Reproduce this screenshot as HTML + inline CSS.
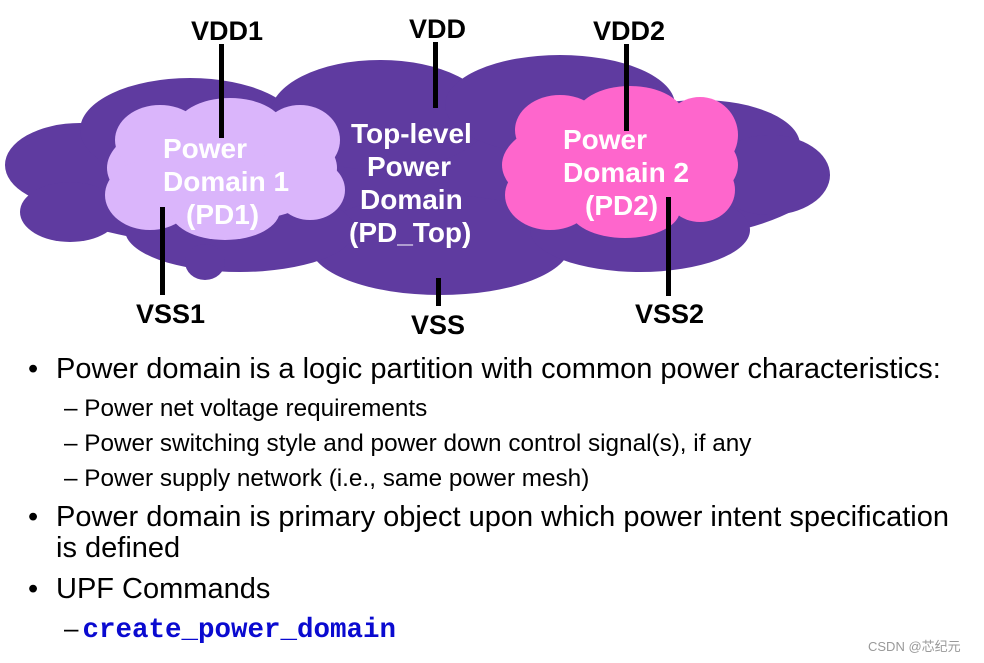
<!DOCTYPE html>
<html><head><meta charset="utf-8"><style>
body{margin:0;width:984px;height:663px;background:#fff;overflow:hidden;position:relative;font-family:"Liberation Sans",sans-serif;}
.t{position:absolute;white-space:nowrap;color:#000;line-height:1;}
.b{font-size:29px;}
.s{font-size:24.3px;}
</style></head><body>
<svg width="984" height="340" style="position:absolute;left:0;top:0">
<g fill="#5f3ba0">
<ellipse cx="420" cy="190" rx="390" ry="70"/>
<ellipse cx="80" cy="165" rx="75" ry="42"/>
<ellipse cx="70" cy="212" rx="50" ry="30"/>
<ellipse cx="190" cy="130" rx="110" ry="52"/>
<ellipse cx="380" cy="115" rx="110" ry="55"/>
<ellipse cx="560" cy="105" rx="115" ry="50"/>
<ellipse cx="700" cy="145" rx="100" ry="45"/>
<ellipse cx="770" cy="175" rx="60" ry="40"/>
<ellipse cx="440" cy="245" rx="130" ry="50"/>
<ellipse cx="240" cy="230" rx="115" ry="42"/>
<ellipse cx="640" cy="230" rx="110" ry="42"/>
<ellipse cx="205" cy="262" rx="20" ry="18"/>
</g>
<g fill="#dab5fb">
<ellipse cx="222" cy="168" rx="115" ry="55"/>
<ellipse cx="160" cy="140" rx="45" ry="35"/>
<ellipse cx="230" cy="130" rx="55" ry="32"/>
<ellipse cx="300" cy="140" rx="40" ry="35"/>
<ellipse cx="310" cy="190" rx="35" ry="30"/>
<ellipse cx="150" cy="195" rx="45" ry="35"/>
<ellipse cx="225" cy="210" rx="55" ry="30"/>
</g>
<g fill="#fe66cc">
<ellipse cx="620" cy="165" rx="118" ry="55"/>
<ellipse cx="560" cy="130" rx="45" ry="35"/>
<ellipse cx="630" cy="118" rx="55" ry="32"/>
<ellipse cx="700" cy="135" rx="38" ry="38"/>
<ellipse cx="700" cy="190" rx="35" ry="32"/>
<ellipse cx="550" cy="195" rx="45" ry="35"/>
<ellipse cx="625" cy="210" rx="55" ry="28"/>
</g>
<g fill="#000">
<rect x="219" y="44" width="5" height="94"/>
<rect x="160" y="207" width="5" height="88"/>
<rect x="433" y="42" width="5" height="66"/>
<rect x="436" y="278" width="5" height="28"/>
<rect x="624" y="44" width="5" height="87"/>
<rect x="666" y="197" width="5" height="99"/>
</g>
<g font-family="Liberation Sans, sans-serif" font-weight="bold" font-size="27" fill="#000">
<text x="191" y="40">VDD1</text>
<text x="409" y="38">VDD</text>
<text x="593" y="40">VDD2</text>
<text x="136" y="323">VSS1</text>
<text x="411" y="334">VSS</text>
<text x="635" y="323">VSS2</text>
</g>
<g font-family="Liberation Sans, sans-serif" font-weight="bold" font-size="28" fill="#fff">
<text x="163" y="158">Power</text>
<text x="163" y="191">Domain 1</text>
<text x="186" y="224">(PD1)</text>
<text x="351" y="143">Top-level</text>
<text x="367" y="176">Power</text>
<text x="360" y="209">Domain</text>
<text x="349" y="242">(PD_Top)</text>
<text x="563" y="149">Power</text>
<text x="563" y="182">Domain 2</text>
<text x="585" y="215">(PD2)</text>
</g>
</svg>
<div class="t b" style="left:28px;top:355px">•</div>
<div class="t b" style="left:56px;top:355px">Power domain is a logic partition with common power characteristics:</div>
<div class="t s" style="left:64px;top:397px">– Power net voltage requirements</div>
<div class="t s" style="left:64px;top:432px">– Power switching style and power down control signal(s), if any</div>
<div class="t s" style="left:64px;top:467px">– Power supply network (i.e., same power mesh)</div>
<div class="t b" style="left:28px;top:503px">•</div>
<div class="t b" style="left:56px;top:503px">Power domain is primary object upon which power intent specification</div>
<div class="t b" style="left:56px;top:534px">is defined</div>
<div class="t b" style="left:28px;top:575px">•</div>
<div class="t b" style="left:56px;top:575px">UPF Commands</div>
<div class="t" style="left:64px;top:615px;font-size:26px">–<span style="font-family:'Liberation Mono',monospace;font-weight:bold;color:#0a0ad0;font-size:27.5px;margin-left:4px">create_power_domain</span></div>
<div class="t" style="left:868px;top:640px;font-size:13px;color:#999;font-family:'Liberation Sans','Noto Sans CJK SC',sans-serif">CSDN @芯纪元</div>
</body></html>
